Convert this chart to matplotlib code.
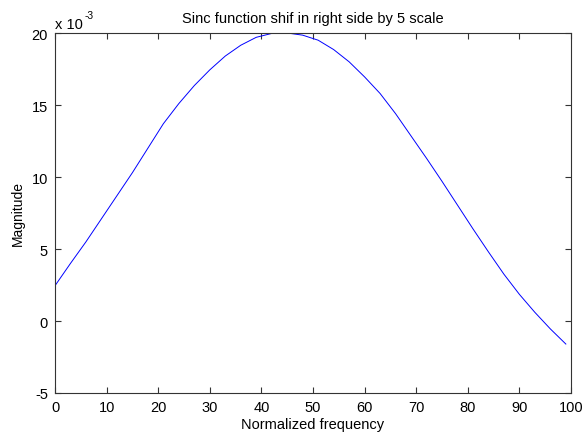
import numpy as np
import matplotlib
matplotlib.use("Agg")
import matplotlib.pyplot as plt
from matplotlib.ticker import FuncFormatter

# Data (magnitude in units of 1e-3)
freq = [0, 3, 6, 9, 12, 15, 18, 21, 24, 27, 30, 33, 36, 39, 42, 45, 48, 51,
        54, 57, 60, 63, 66, 69, 72, 75, 78, 81, 84, 87, 90, 93, 96, 99]
mag_e3 = [2.45, 4.0, 5.5, 7.1, 8.7, 10.3, 12.0, 13.7, 15.1, 16.35, 17.44, 18.4,
          19.15, 19.7, 19.97, 20.0, 19.85, 19.5, 18.85, 18.0, 16.95, 15.8, 14.4,
          12.85, 11.3, 9.7, 8.05, 6.4, 4.8, 3.25, 1.85, 0.6, -0.55, -1.6]
xticks = [0, 10, 20, 30, 40, 50, 60, 70, 80, 90, 100]
yticks_e3 = [-5, 0, 5, 10, 15, 20]

title = "Sinc function shif in right side by 5 scale"
xlabel = "Normalized frequency"
ylabel = "Magnitude"

plt.rcParams['font.family'] = ['Liberation Sans', 'DejaVu Sans']
fs = 10.5

fig = plt.figure(figsize=(5.85, 4.35), dpi=100)
ax = fig.add_axes([55/585, 41/435, 516/585, 360/435])

y = np.array(mag_e3) * 1e-3
ax.plot(freq, y, color='#0000ff', lw=0.7)

ax.set_xlim(0, 100)
ax.set_ylim(-5e-3, 20e-3)
ax.set_xticks(xticks)
ax.set_yticks(np.array(yticks_e3) * 1e-3)
ax.yaxis.set_major_formatter(FuncFormatter(lambda v, p: f"{v*1e3:.0f}"))
ax.tick_params(direction='in', length=4, width=0.8, color='#333333',
               top=True, right=True, labelsize=fs, pad=5)
for s in ax.spines.values():
    s.set_color('#333333')
    s.set_linewidth(0.8)

ax.set_title(title, fontsize=fs, pad=8)
ax.set_xlabel(xlabel, fontsize=fs, labelpad=2)
ax.set_ylabel(ylabel, fontsize=10, labelpad=5)

ax.text(0.0, 1.006, "x 10", transform=ax.transAxes, fontsize=fs,
        ha='left', va='bottom')
ax.text(0.058, 1.035, "-3", transform=ax.transAxes, fontsize=fs*0.7,
        ha='left', va='bottom')

fig.savefig("out.png", dpi=100)
